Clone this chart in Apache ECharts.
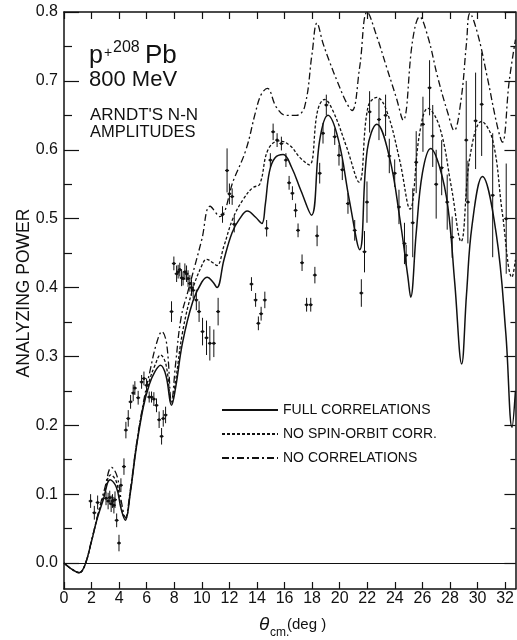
<!DOCTYPE html>
<html>
<head>
<meta charset="utf-8">
<script src="https://cdn.jsdelivr.net/npm/echarts@6/dist/echarts.min.js"></script>
<style>
  html, body { margin: 0; padding: 0; background: #fff; }
  #chart { width: 517px; height: 640px; }
</style>
</head>
<body>
<div id="chart"></div>
<script>
// tick positions
const xTicks = [0, 2, 4, 6, 8, 10, 12, 14, 16, 18, 20, 22, 24, 26, 28, 30, 32];
const yMajor = [0, 0.1, 0.2, 0.3, 0.4, 0.5, 0.6, 0.7, 0.8];
const yMinor = [0.05, 0.15, 0.25, 0.35, 0.45, 0.55, 0.65, 0.75];

// theory curves [theta_cm, Ay]
const fullCorr = [
  [0, 0], [0.5, -0.008], [1.1, -0.014], [1.5, -0.004], [2.0, 0.032], [2.4, 0.064], [2.85, 0.092],
  [3.35, 0.121], [3.8, 0.11], [4.15, 0.078], [4.45, 0.062], [4.8, 0.1], [5.25, 0.168], [5.75, 0.226],
  [6.2, 0.26], [6.6, 0.278], [7.0, 0.287], [7.4, 0.272], [7.8, 0.229], [8.1, 0.255], [8.6, 0.32],
  [9.35, 0.38], [10.0, 0.408], [10.4, 0.415], [10.8, 0.408], [11.1, 0.4], [11.6, 0.44], [12.2, 0.48],
  [12.75, 0.5], [13.3, 0.511], [13.9, 0.502], [14.35, 0.493], [14.6, 0.52], [14.9, 0.568], [15.3, 0.588],
  [15.9, 0.593], [16.5, 0.575], [17.2, 0.54], [17.95, 0.505], [18.55, 0.614], [19.15, 0.65], [19.9, 0.615],
  [20.7, 0.527], [21.45, 0.455], [22.0, 0.6], [22.7, 0.637], [23.6, 0.59], [24.35, 0.502], [24.95, 0.415],
  [25.15, 0.386], [25.55, 0.479], [26.0, 0.566], [26.6, 0.602], [27.25, 0.575], [27.85, 0.517],
  [28.35, 0.406], [28.85, 0.289], [29.2, 0.39], [29.6, 0.49], [30.35, 0.561], [31.35, 0.479],
  [32.05, 0.334], [32.5, 0.197], [32.75, 0.25]
];
const noSpinOrbit = [
  [0, 0], [0.5, -0.008], [1.1, -0.014], [1.5, -0.004], [2.0, 0.032], [2.4, 0.065], [2.85, 0.096],
  [3.4, 0.128], [3.8, 0.118], [4.15, 0.08], [4.45, 0.064], [4.8, 0.102], [5.25, 0.17], [5.75, 0.229],
  [6.2, 0.265], [6.6, 0.287], [7.0, 0.302], [7.4, 0.288], [7.8, 0.232], [8.1, 0.265], [8.6, 0.335],
  [9.3, 0.395], [10.0, 0.432], [10.35, 0.441], [10.8, 0.436], [11.1, 0.432], [11.6, 0.46], [12.25, 0.5],
  [13.0, 0.528], [13.7, 0.545], [14.2, 0.55], [14.8, 0.6], [15.6, 0.613], [16.4, 0.606], [17.1, 0.589],
  [17.8, 0.578], [18.4, 0.657], [18.9, 0.673], [19.5, 0.657], [20.5, 0.604], [21.4, 0.553], [22.05, 0.662],
  [22.7, 0.676], [23.4, 0.657], [24.35, 0.585], [25.1, 0.514], [25.8, 0.624], [26.4, 0.66], [27.25, 0.633],
  [28.1, 0.546], [28.8, 0.467], [29.45, 0.59], [30.3, 0.641], [31.1, 0.614], [31.8, 0.508], [32.5, 0.415],
  [32.75, 0.44]
];
const noCorr = [
  [0, 0], [0.5, -0.008], [1.1, -0.014], [1.5, -0.004], [2.0, 0.033], [2.45, 0.07], [2.95, 0.108],
  [3.45, 0.139], [3.85, 0.126], [4.2, 0.085], [4.45, 0.066], [4.8, 0.105], [5.25, 0.172], [5.75, 0.232],
  [6.25, 0.28], [6.7, 0.318], [7.1, 0.336], [7.45, 0.318], [7.8, 0.234], [8.1, 0.29], [8.5, 0.357],
  [9.0, 0.395], [9.5, 0.432], [10.0, 0.47], [10.6, 0.518], [11.3, 0.503], [12.3, 0.556], [13.2, 0.6],
  [13.9, 0.655], [14.3, 0.68], [14.75, 0.689], [15.4, 0.662], [16.1, 0.65], [16.85, 0.65], [17.45, 0.662],
  [18.0, 0.74], [18.35, 0.784], [18.8, 0.754], [19.3, 0.726], [19.85, 0.698], [20.5, 0.668], [20.9, 0.657],
  [21.45, 0.72], [22.0, 0.8], [22.7, 0.764], [23.4, 0.72], [24.1, 0.676], [24.6, 0.643], [25.3, 0.76],
  [25.8, 0.793], [26.4, 0.764], [27.1, 0.706], [27.85, 0.653], [28.3, 0.628], [28.8, 0.672], [29.2, 0.755],
  [29.45, 0.798], [30.0, 0.769], [30.7, 0.706], [31.45, 0.633], [31.8, 0.611], [32.3, 0.7], [32.75, 0.76]
];

// measured points: angle, analyzing power, error
const expDeg = [
  1.93, 2.2, 2.44, 3.05, 3.2, 3.32, 3.42, 3.52, 3.62, 3.7, 3.82, 3.99, 4.13, 4.35, 4.49, 4.66, 4.83,
  5.02, 5.14, 5.38, 5.63, 5.8, 5.99, 6.18, 6.35, 6.52, 6.71, 6.9, 7.08, 7.2, 7.37, 7.8, 7.97, 8.17,
  8.28, 8.4, 8.53, 8.64, 8.77, 8.89, 9.0, 9.13, 9.25, 9.37, 9.6, 9.8, 10.05, 10.34, 10.58, 10.87,
  11.18, 11.5, 11.83, 12.0, 12.2, 12.35, 13.6, 13.9, 14.1, 14.3, 14.57, 14.7, 14.97, 15.17, 15.46,
  15.77, 16.1, 16.33, 16.57, 16.8, 16.98, 17.27, 17.6, 17.9, 18.2, 18.36, 18.55, 18.79, 19.03, 19.64,
  19.95, 20.19, 20.6, 21.09, 21.57, 21.8, 21.98, 22.17, 22.85, 23.33, 23.6, 23.99, 24.3, 24.7, 24.82,
  25.3, 25.55, 26.04, 26.52, 26.75, 27.0, 27.4, 27.8, 28.16, 29.18, 29.3, 29.86, 30.3, 31.1, 32.08
];
const expAp = [
  0.09, 0.073, 0.088, 0.094, 0.09, 0.095, 0.086, 0.09, 0.084, 0.092, 0.062, 0.029, 0.113, 0.14, 0.193,
  0.21, 0.234, 0.247, 0.254, 0.24, 0.263, 0.268, 0.258, 0.241, 0.241, 0.238, 0.229, 0.208, 0.184, 0.21,
  0.215, 0.365, 0.435, 0.42, 0.423, 0.426, 0.414, 0.413, 0.423, 0.42, 0.413, 0.406, 0.4, 0.396, 0.382,
  0.365, 0.336, 0.327, 0.319, 0.319, 0.365, 0.506, 0.57, 0.536, 0.532, 0.492, 0.405, 0.382, 0.348, 0.362,
  0.382, 0.486, 0.585, 0.626, 0.614, 0.609, 0.585, 0.552, 0.537, 0.512, 0.483, 0.436, 0.375, 0.375, 0.418,
  0.475, 0.566, 0.624, 0.665, 0.619, 0.592, 0.571, 0.522, 0.483, 0.392, 0.452, 0.524, 0.655, 0.644, 0.65,
  0.591, 0.566, 0.517, 0.464, 0.447, 0.494, 0.582, 0.637, 0.69, 0.62, 0.55, 0.574, 0.524, 0.473, 0.614,
  0.524, 0.642, 0.666, 0.534, 0.5
];
const expErr = [
  0.01, 0.01, 0.01, 0.01, 0.012, 0.01, 0.012, 0.01, 0.012, 0.012, 0.01, 0.012, 0.01, 0.012, 0.012,
  0.012, 0.01, 0.012, 0.01, 0.01, 0.01, 0.01, 0.01, 0.008, 0.008, 0.01, 0.01, 0.012, 0.012, 0.012,
  0.012, 0.015, 0.01, 0.012, 0.01, 0.01, 0.012, 0.01, 0.012, 0.012, 0.012, 0.012, 0.012, 0.012, 0.015,
  0.015, 0.02, 0.025, 0.025, 0.02, 0.02, 0.012, 0.032, 0.015, 0.012, 0.012, 0.01, 0.01, 0.01, 0.01,
  0.012, 0.012, 0.01, 0.012, 0.01, 0.01, 0.01, 0.01, 0.01, 0.01, 0.01, 0.012, 0.01, 0.01, 0.012,
  0.015, 0.015, 0.015, 0.015, 0.012, 0.015, 0.015, 0.015, 0.015, 0.02, 0.03, 0.03, 0.03, 0.03, 0.03,
  0.025, 0.02, 0.025, 0.03, 0.015, 0.05, 0.045, 0.04, 0.04, 0.045, 0.05, 0.04, 0.04, 0.03, 0.086,
  0.06, 0.07, 0.075, 0.09, 0.08
];

const legendNames = ['FULL CORRELATIONS', 'NO SPIN-ORBIT CORR.', 'NO CORRELATIONS'];

const FONT = '"Liberation Sans", Arial, sans-serif';
const INK = '#111';

const chart = echarts.init(document.getElementById('chart'), null, { renderer: 'canvas' });

function txt(text, x, y, size, opts) {
  opts = opts || {};
  return {
    type: 'text',
    x: x,
    y: y,
    rotation: opts.rotation || 0,
    silent: true,
    style: {
      text: text,
      fill: INK,
      fontSize: size,
      fontFamily: FONT,
      fontStyle: opts.italic ? 'italic' : 'normal',
      align: opts.align || 'left',
      verticalAlign: 'middle',
    },
  };
}

function yAxisBase(position, values, len, showLabel, showLine) {
  return {
    type: 'value',
    position: position,
    min: -0.0377,
    max: 0.8,
    axisLine: { show: showLine, onZero: false, lineStyle: { color: INK, width: 1.5 } },
    axisTick: { show: true, inside: true, length: len, customValues: values, lineStyle: { color: INK, width: 1.2 } },
    axisLabel: {
      show: showLabel,
      customValues: yMajor,
      margin: 6,
      color: INK,
      fontSize: 16,
      fontFamily: FONT,
      formatter: (v) => v.toFixed(1),
    },
    splitLine: { show: false },
  };
}

const lineSeries = (name, data, type, width) => ({
  name: name,
  type: 'line',
  data: data,
  smooth: 0.4,
  symbol: 'none',
  clip: true,
  lineStyle: { color: INK, width: width, type: type },
  itemStyle: { color: INK },
});

const option = {
  animation: false,
  backgroundColor: '#fff',
  grid: { left: 64, top: 12, width: 452, height: 577 },
  xAxis: [
    {
      type: 'value',
      position: 'bottom',
      min: 0,
      max: 32.75,
      axisLine: { onZero: false, lineStyle: { color: INK, width: 1.5 } },
      axisTick: { inside: true, length: 7, customValues: xTicks, lineStyle: { color: INK, width: 1.2 } },
      axisLabel: { customValues: xTicks, margin: 2, color: INK, fontSize: 16, fontFamily: FONT },
      splitLine: { show: false },
    },
    {
      type: 'value',
      position: 'top',
      min: 0,
      max: 32.75,
      axisLine: { onZero: false, lineStyle: { color: INK, width: 1.5 } },
      axisTick: { inside: true, length: 7, customValues: xTicks, lineStyle: { color: INK, width: 1.2 } },
      axisLabel: { show: false },
      splitLine: { show: false },
    },
  ],
  yAxis: [
    yAxisBase('left', yMajor, 15, true, true),
    yAxisBase('left', yMinor, 8, false, false),
    yAxisBase('right', yMajor, 11, false, true),
    yAxisBase('right', yMinor, 5, false, false),
  ],
  legend: {
    data: legendNames,
    orient: 'vertical',
    left: 221,
    top: 403,
    padding: 0,
    itemWidth: 56,
    itemHeight: 14,
    itemGap: 10,
    itemStyle: { opacity: 0 },
    textStyle: { color: INK, fontSize: 14, fontFamily: FONT },
  },
  graphic: [
    txt('p', 89, 56, 25),
    txt('+', 104, 53, 14),
    txt('208', 113, 48, 16),
    txt('Pb', 145, 56, 26),
    txt('800 MeV', 89, 80, 22),
    txt("ARNDT'S N-N", 90, 115, 17),
    txt('AMPLITUDES', 90, 132, 16.5),
    txt('ANALYZING POWER', 24, 293, 17.5, { rotation: Math.PI / 2, align: 'center' }),
    txt('θ', 259, 625, 19, { italic: true }),
    txt('cm.', 270, 633, 12),
    txt('(deg )', 287, 625, 15),
  ],
  series: [
    Object.assign(lineSeries(legendNames[0], fullCorr, 'solid', 1.5), {
      markLine: {
        silent: true,
        symbol: 'none',
        label: { show: false },
        lineStyle: { color: INK, width: 1, type: 'solid' },
        data: [{ yAxis: 0 }],
      },
    }),
    lineSeries(legendNames[1], noSpinOrbit, [3, 2], 1.3),
    lineSeries(legendNames[2], noCorr, [7, 3, 2, 3], 1.3),
    {
      name: 'data',
      type: 'custom',
      clip: true,
      data: expDeg.map((d, i) => [d, expAp[i], expErr[i]]),
      encode: { x: 0, y: 1 },
      renderItem: function (params, api) {
        const x = api.value(0);
        const y = api.value(1);
        const e = api.value(2);
        const p = api.coord([x, y]);
        const hi = api.coord([x, y + e]);
        const lo = api.coord([x, y - e]);
        const stroke = { stroke: INK, lineWidth: 1 };
        return {
          type: 'group',
          children: [
            { type: 'line', shape: { x1: p[0], y1: hi[1], x2: p[0], y2: lo[1] }, style: stroke },
            { type: 'line', shape: { x1: p[0] - 2, y1: p[1], x2: p[0] + 2, y2: p[1] }, style: stroke },
            { type: 'circle', shape: { cx: p[0], cy: p[1], r: 1.5 }, style: { fill: INK } },
          ],
        };
      },
    },
  ],
};

chart.setOption(option);
</script>
</body>
</html>
